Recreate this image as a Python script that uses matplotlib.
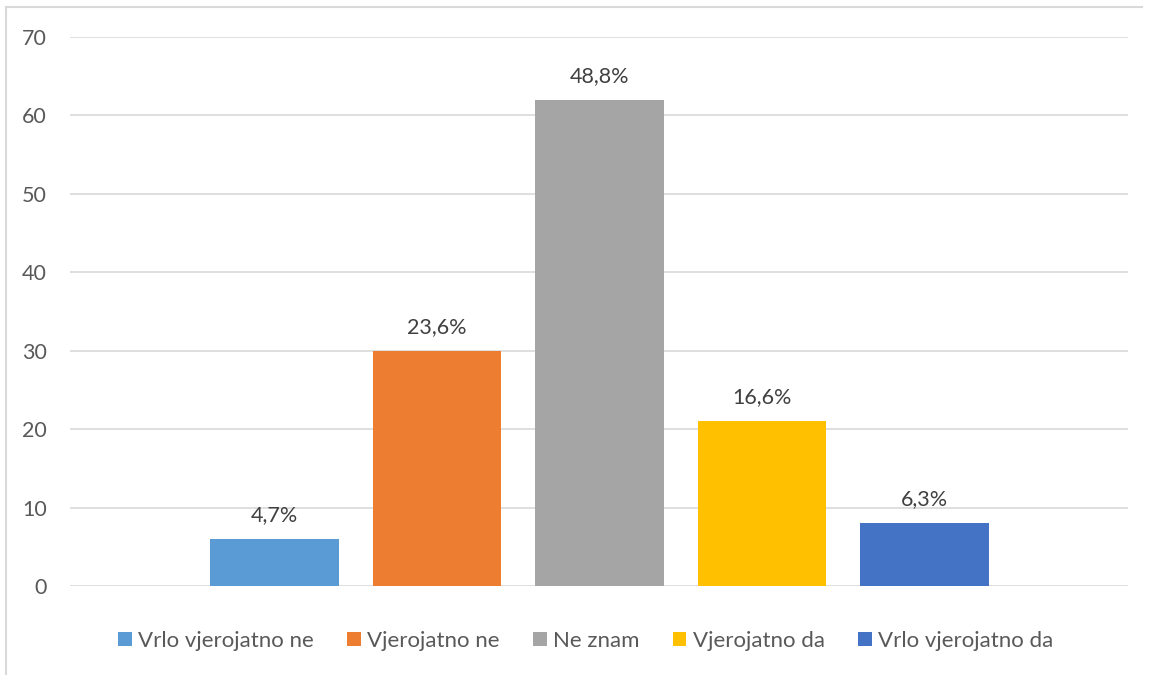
import matplotlib
matplotlib.use("Agg")
import matplotlib.pyplot as plt
from matplotlib.lines import Line2D
from matplotlib.patches import Patch

categories = ["Vrlo vjerojatno ne", "Vjerojatno ne", "Ne znam", "Vjerojatno da", "Vrlo vjerojatno da"]
values = [6, 30, 62, 21, 8]
labels = ["4,7%", "23,6%", "48,8%", "16,6%", "6,3%"]
colors = ["#5B9BD5", "#ED7D31", "#A5A5A5", "#FFC000", "#4472C4"]
yticks = [0, 10, 20, 30, 40, 50, 60, 70]

plt.rcParams['font.family'] = ['Lato', 'DejaVu Sans']
txt = "#595959"

fig = plt.figure(figsize=(11.51, 6.75), dpi=100)
ax = fig.add_axes([70/1151, 1-586/675, 1058/1151, (586-37)/675])

x = list(range(len(categories)))
ax.bar(x, values, width=0.79, color=colors, zorder=3)
for xi, v, lab in zip(x, values, labels):
    ax.annotate(lab, (xi, v), xytext=(0, 10), textcoords="offset points",
                ha="center", va="bottom", fontsize=15.5, color="#404040")

ax.set_xlim(-1.258, 5.253)
ax.set_ylim(0, 70)
ax.set_yticks(yticks)
ax.set_xticks([])
ax.yaxis.grid(True, color="#D9D9D9", linewidth=1.2, zorder=0)
for s in ax.spines.values():
    s.set_visible(False)
ax.tick_params(axis="y", length=0, pad=16.5, labelsize=15.5, labelcolor=txt)

handles = [Patch(facecolor=c, edgecolor="none") for c in colors]
fig.legend(handles, categories, loc="center", bbox_to_anchor=(586/1151, 1-641/675),
           ncol=5, frameon=False, fontsize=16, labelcolor=txt,
           handlelength=0.6, handleheight=0.6, handletextpad=0.3, columnspacing=1.5)

# outer chart border (left and top visible)
fig.add_artist(Line2D([6/1151, 6/1151], [0, 1-7/675], color="#D9D9D9", linewidth=1.5))
fig.add_artist(Line2D([6/1151, 1142/1151], [1-7/675, 1-7/675], color="#D9D9D9", linewidth=1.5))

fig.savefig("out.png", dpi=100)
